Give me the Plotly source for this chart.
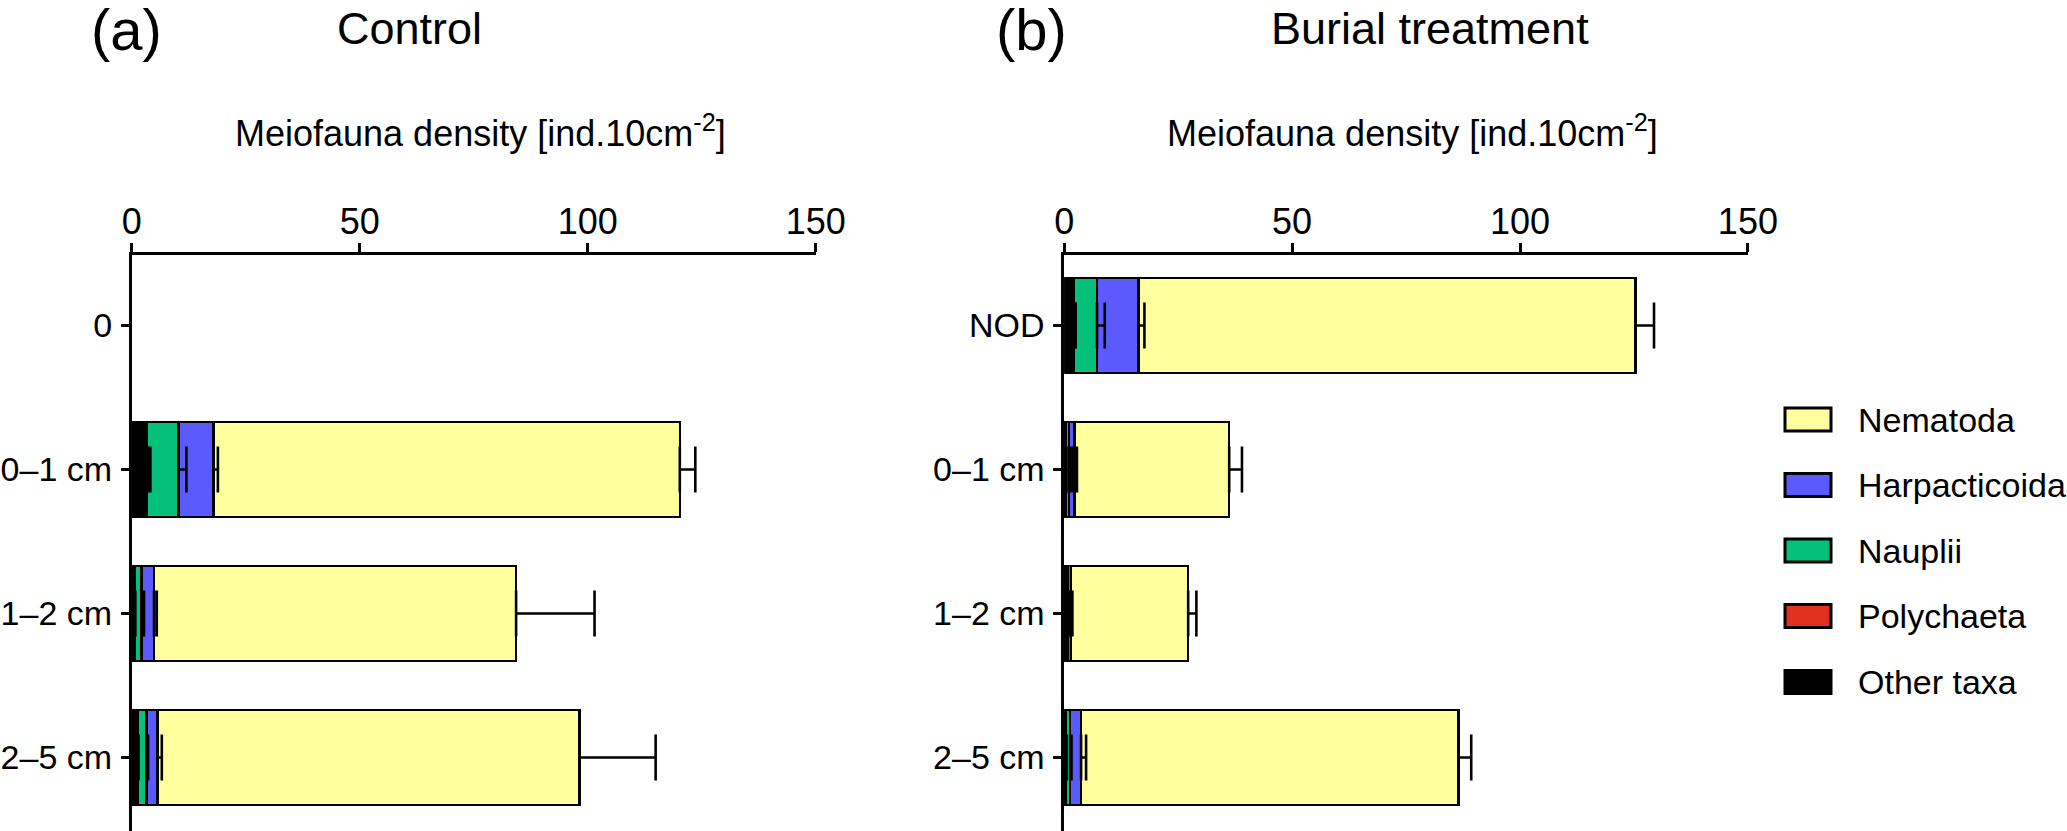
import numpy as np
import plotly.graph_objects as go

W, H = 2067, 831

# ---------------- data ----------------
taxa = ["Other taxa", "Polychaeta", "Nauplii", "Harpacticoida", "Nematoda"]
taxa_colors = ["#000000", "#E2301E", "#05C07A", "#5A5AFF", "#FFFF9E"]

cats_control = ["0", "0–1 cm", "1–2 cm", "2–5 cm"]
cats_burial = ["NOD", "0–1 cm", "1–2 cm", "2–5 cm"]

# Control (a): mean densities per taxon
ctrl_other = [None, 2.9, 0.5, 1.2]
ctrl_poly = [None, 0.3, 0.1, 0.1]
ctrl_naup = [None, 7.1, 1.6, 1.9]
ctrl_harp = [None, 7.6, 2.7, 2.5]
ctrl_nema = [None, 102.3, 79.4, 92.5]
# Control (a): error (SE)
ctrl_other_err = [0, 1.2, 0.3, 0.3]
ctrl_poly_err = [0, 0.5, 0.0, 0.0]
ctrl_naup_err = [0, 1.7, 0.5, 0.4]
ctrl_harp_err = [0, 1.0, 0.6, 0.9]
ctrl_nema_err = [0, 3.4, 17.2, 16.7]

# Burial treatment (b): mean densities per taxon
bur_other = [1.5, 0.3, 0.2, 0.3]
bur_poly = [0.5, 0.05, 0.05, 0.05]
bur_naup = [5.2, 0.65, 0.45, 0.95]
bur_harp = [9.1, 1.3, 0.8, 2.4]
bur_nema = [109.0, 33.9, 25.7, 82.8]
# Burial treatment (b): error (SE)
bur_other_err = [1.0, 1.5, 1.0, 0.2]
bur_poly_err = [0.5, 0.1, 0.05, 0.05]
bur_naup_err = [1.7, 0.3, 0.2, 0.3]
bur_harp_err = [1.3, 0.5, 0.3, 1.1]
bur_nema_err = [4.1, 2.8, 1.8, 2.8]

x_ticks = [0, 50, 100, 150]
axis_title = "Meiofauna density [ind.10cm<sup>-2</sup>]"

ctrl_vals = [ctrl_other, ctrl_poly, ctrl_naup, ctrl_harp, ctrl_nema]
ctrl_errs = [ctrl_other_err, ctrl_poly_err, ctrl_naup_err, ctrl_harp_err, ctrl_nema_err]
bur_vals = [bur_other, bur_poly, bur_naup, bur_harp, bur_nema]
bur_errs = [bur_other_err, bur_poly_err, bur_naup_err, bur_harp_err, bur_nema_err]

FONT = "Liberation Sans, Arial, sans-serif"

fig = go.Figure()

def add_panel(cats, vals, errs, xa, ya):
    # stacked bars
    for name, col, v in zip(taxa, taxa_colors, vals):
        fig.add_trace(go.Bar(
            y=cats, x=v, orientation="h", name=name,
            marker=dict(color=col, line=dict(color="black", width=2.5)),
            width=0.662, xaxis=xa, yaxis=ya, showlegend=False,
            hoverinfo="skip",
        ))
    # error bars at the end of each stacked segment (drawn on top of all bars)
    arr = np.array([[np.nan if x is None else x for x in v] for v in vals], dtype=float)
    cum = np.cumsum(arr, axis=0)
    for name, c, e in zip(taxa, cum, errs):
        keep = ~np.isnan(c)
        fig.add_trace(go.Scatter(
            y=[cat for cat, k in zip(cats, keep) if k], x=c[keep],
            mode="markers", marker=dict(size=1, color="rgba(0,0,0,0)"),
            error_x=dict(type="data", symmetric=False,
                         array=list(np.array(e, dtype=float)[keep]),
                         arrayminus=[0] * int(keep.sum()), color="black",
                         thickness=2.6, width=23),
            xaxis=xa, yaxis=ya, showlegend=False, hoverinfo="skip", name=name,
        ))

add_panel(cats_control, ctrl_vals, ctrl_errs, "x", "y")
add_panel(cats_burial, bur_vals, bur_errs, "x2", "y2")

ydom = [0, (H - 255) / H]
xcommon = dict(range=[0, 150], side="top", tickvals=x_ticks, ticks="outside",
               ticklen=9, tickwidth=2.5, tickcolor="black", showline=True,
               linecolor="black", linewidth=2.6, showgrid=False, zeroline=False,
               automargin=False,
               tickfont=dict(family=FONT, size=36, color="black"),
               ticklabelstandoff=-5)
ycommon = dict(type="category", categoryorder="array", range=[3.51, -0.49],
               ticks="outside", ticklen=8, tickwidth=2.5, tickcolor="black",
               showline=True, linecolor="black", linewidth=2.6, showgrid=False,
               zeroline=False, domain=ydom, automargin=False,
               ticklabelstandoff=2,
               tickfont=dict(family=FONT, size=34, color="black"))

fig.update_layout(
    template="none",
    width=W, height=H,
    margin=dict(l=0, r=0, t=0, b=0, pad=0),
    paper_bgcolor="white", plot_bgcolor="white",
    barmode="stack",
    showlegend=False,
    font=dict(family=FONT, color="black"),
    xaxis=dict(domain=[131.7 / W, 815.7 / W], anchor="y", **xcommon),
    yaxis=dict(anchor="x", categoryarray=cats_control, **ycommon),
    xaxis2=dict(domain=[1064.2 / W, 1747.9 / W], anchor="y2", **xcommon),
    yaxis2=dict(anchor="x2", categoryarray=cats_burial, **ycommon),
)

def py(pix):
    return 1 - pix / H

ann = [
    dict(text="(a)", x=126 / W, y=py(30), size=58),
    dict(text="Control", x=409 / W, y=py(29), size=45),
    dict(text="(b)", x=1031 / W, y=py(30), size=58),
    dict(text="Burial treatment", x=1430 / W, y=py(29), size=45),
    dict(text=axis_title, x=480 / W, y=py(131), size=36),
    dict(text=axis_title, x=1412 / W, y=py(131), size=36),
]
for a in ann:
    fig.add_annotation(text=a["text"], x=a["x"], y=a["y"], xref="paper", yref="paper",
                       xanchor="center", yanchor="middle", showarrow=False,
                       font=dict(family=FONT, size=a["size"], color="black"))

# manual legend (larger swatches than Plotly's built-in bar legend)
legend_y = [419.5, 485, 550.5, 616, 682]
for (name, col), yc in zip(list(zip(taxa, taxa_colors))[::-1], legend_y):
    fig.add_shape(type="rect", xref="paper", yref="paper",
                  x0=1785 / W, x1=1831 / W, y0=py(yc + 11.5), y1=py(yc - 11.5),
                  fillcolor=col, line=dict(color="black", width=3))
    fig.add_annotation(text=name, x=1856 / W, y=py(yc), xref="paper", yref="paper",
                       xanchor="left", yanchor="middle", showarrow=False,
                       font=dict(family=FONT, size=34, color="black"))

fig.write_html("out.html",
               config={"displayModeBar": False},
               post_script="document.body.style.margin='0';document.body.style.padding='0';")
